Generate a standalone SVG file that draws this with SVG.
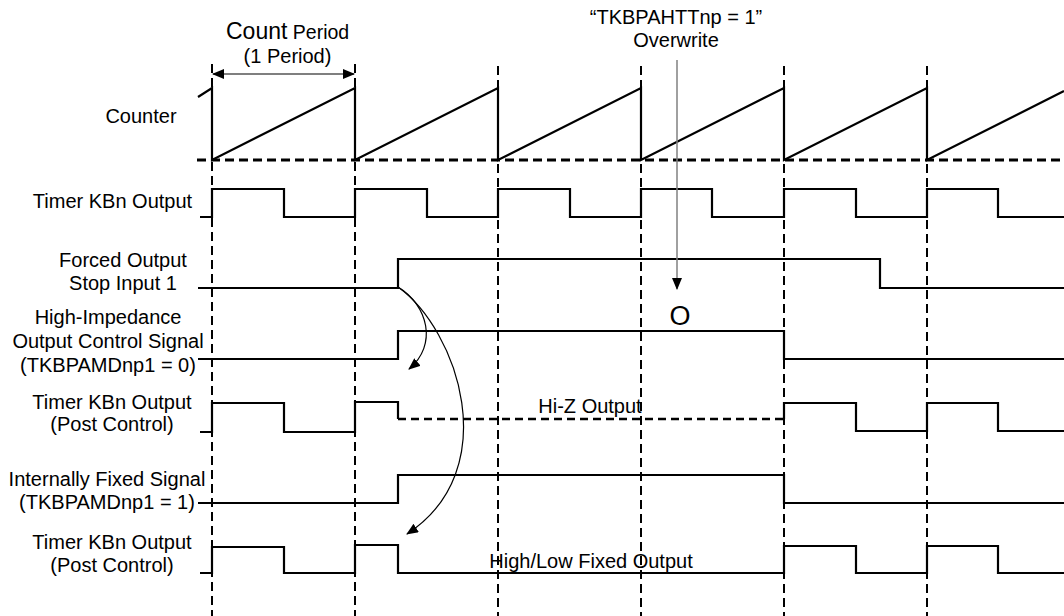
<svg xmlns="http://www.w3.org/2000/svg" width="1064" height="616" viewBox="0 0 1064 616">
<defs>
<style>
.t{font-family:"Liberation Sans",Arial,sans-serif;font-size:20px;fill:#000}
.m{text-anchor:middle}
.sig{fill:none;stroke:#000;stroke-width:2.2}
.grid{fill:none;stroke:#000;stroke-width:2;stroke-dasharray:9 5}
.base{fill:none;stroke:#000;stroke-width:3;stroke-dasharray:9 5}
.hiz{fill:none;stroke:#000;stroke-width:2.5;stroke-dasharray:8 5}
.thin{fill:none;stroke:#000;stroke-width:1.2}
</style>
<marker id="ah" viewBox="0 0 12 10" refX="11" refY="5" markerWidth="12" markerHeight="10" markerUnits="userSpaceOnUse" orient="auto">
<path d="M0,0 L12,5 L0,10 Z" fill="#000"/>
</marker>
<marker id="ahs" viewBox="0 0 12 10" refX="1" refY="5" markerWidth="12" markerHeight="10" markerUnits="userSpaceOnUse" orient="auto">
<path d="M12,0 L0,5 L12,10 Z" fill="#000"/>
</marker>
</defs>
<rect width="1064" height="616" fill="#fff"/>

<g id="grid">
<path class="grid" d="M212,64 V616 M355,64 V616 M498,66 V616 M641,66 V616 M784,66 V616 M927,66 V616"/>
</g>

<g id="count-period">
<text class="t" x="226" y="39"><tspan style="font-size:23px">Count</tspan><tspan style="font-size:19.5px"> Period</tspan></text>
<text class="t m" x="287.5" y="63">(1 Period)</text>
<path class="thin" d="M213,74 H354" marker-start="url(#ahs)" marker-end="url(#ah)" stroke-width="1.5"/>
</g>

<g id="counter">
<text class="t m" x="141" y="123">Counter</text>
<path class="base" d="M197,160 H1064"/>
<path class="sig" d="M198,97 L212,88 V160 L355,88 V160 L498,88 V160 L641,88 V160 L784,88 V160 L927,88 V160 L1064,91"/>
</g>

<g id="timer-output">
<text class="t m" x="112.5" y="208">Timer KBn Output</text>
<path class="sig" d="M200,217 H212 V189 H284 V217 H355 V189 H427 V217 H498 V189 H570 V217 H641 V189 H712 V217 H784 V189 H856 V217 H927 V189 H998 V217 H1064"/>
</g>

<g id="forced-stop">
<text class="t m" x="123" y="267">Forced Output</text>
<text class="t m" x="123" y="290">Stop Input 1</text>
<path class="sig" d="M198,288 H398 V259 H880 V288 H1064"/>
</g>

<g id="hiz-control">
<text class="t m" x="108" y="324">High-Impedance</text>
<text class="t m" x="108" y="348">Output Control Signal</text>
<text class="t m" x="108" y="372">(TKBPAMDnp1 = 0)</text>
<path class="sig" d="M198,359 H398 V331 H784 V359 H1064"/>
<text class="t m" x="680" y="325" style="font-size:27px">O</text>
</g>

<g id="post-control-1">
<text class="t m" x="112" y="409">Timer KBn Output</text>
<text class="t m" x="112" y="431">(Post Control)</text>
<path class="sig" d="M200,432 H212 V403 H284 V432 H355 V402 H398 V419"/>
<path class="hiz" d="M398,419 H784"/>
<path class="sig" d="M784,419 V403 H856 V431 H927 V403 H998 V431 H1064"/>
<text class="t m" x="590" y="413">Hi-Z Output</text>
</g>

<g id="internal-fixed">
<text class="t m" x="107" y="486">Internally Fixed Signal</text>
<text class="t m" x="107" y="509">(TKBPAMDnp1 = 1)</text>
<path class="sig" d="M198,503 H398 V475 H784 V503 H1064"/>
</g>

<g id="post-control-2">
<text class="t m" x="112" y="549">Timer KBn Output</text>
<text class="t m" x="112" y="572">(Post Control)</text>
<path class="sig" d="M200,573 H212 V547 H284 V573 H355 V545 H398 V573 H784 V546 H856 V573 H927 V546 H998 V573 H1064"/>
<text class="t m" x="591" y="568">High/Low Fixed Output</text>
</g>

<g id="overwrite-note">
<text class="t m" x="676" y="24">“TKBPAHTTnp = 1”</text>
<text class="t m" x="676" y="47">Overwrite</text>
</g>

<g id="connectors">
<path d="M677,60 V289" fill="none" stroke="#808080" stroke-width="1.5" marker-end="url(#ah)"/>
<path class="thin" d="M398,287 C428,305 438,345 409,369" marker-end="url(#ah)"/>
<path class="thin" d="M398,287 C458,330 505,470 407,534" marker-end="url(#ah)"/>
</g>
</svg>
